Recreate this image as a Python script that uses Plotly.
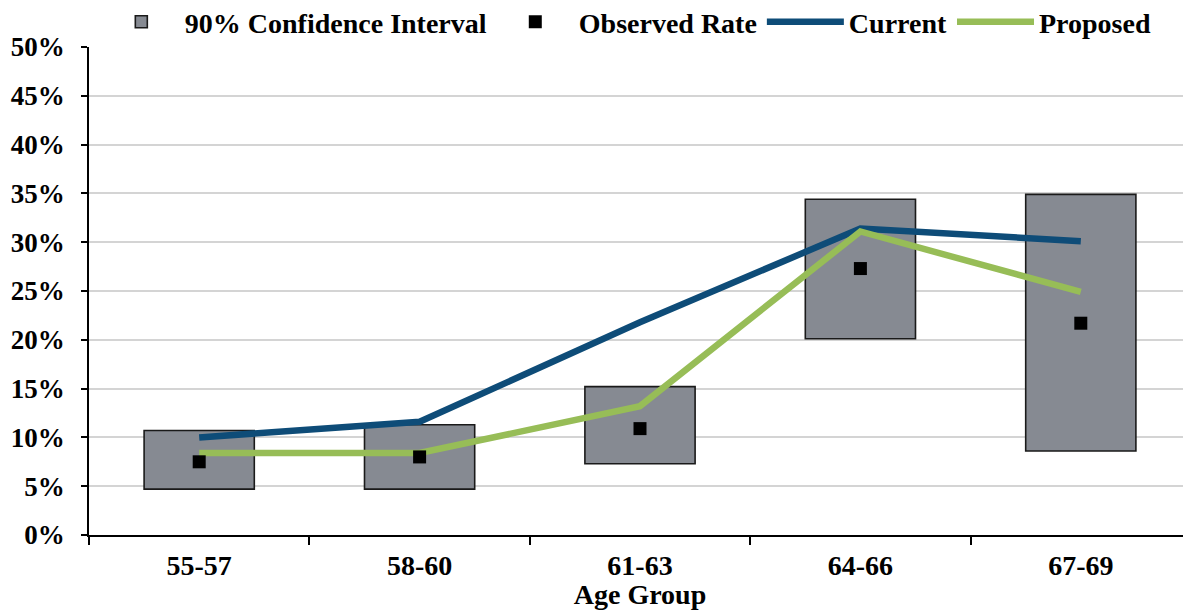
import plotly.graph_objects as go

categories = ["55-57", "58-60", "61-63", "64-66", "67-69"]
ci_low = [4.7, 4.7, 7.3, 20.1, 8.6]
ci_high = [10.7, 11.3, 15.2, 34.4, 34.9]
observed = [7.5, 8.0, 10.9, 27.3, 21.7]
current = [10.0, 11.6, 21.8, 31.4, 30.1]
proposed = [8.4, 8.4, 13.2, 31.1, 24.9]
y_ticks = [0, 5, 10, 15, 20, 25, 30, 35, 40, 45, 50]
y_tick_labels = [f"{v}%" for v in y_ticks]

FONT = "Liberation Serif"
FS = 28

fig = go.Figure()
fig.add_trace(go.Bar(
    x=categories,
    y=[h - l for h, l in zip(ci_high, ci_low)],
    base=ci_low,
    width=0.5,
    name="90% Confidence Interval",
    legendrank=1,
    marker=dict(color="#868a92", line=dict(color="#1a1a1a", width=1.6)),
))
fig.add_trace(go.Scatter(
    x=categories, y=current, mode="lines", name="Current", legendrank=3,
    line=dict(color="#0e4c78", width=6.5),
))
fig.add_trace(go.Scatter(
    x=categories, y=proposed, mode="lines", name="Proposed", legendrank=4,
    line=dict(color="#97bd57", width=6.5),
))
fig.add_trace(go.Scatter(
    x=categories, y=observed, mode="markers", name="Observed Rate", legendrank=2,
    marker=dict(symbol="square", size=13, color="black"),
))

# page body has an 8px margin, so the figure is sized/offset to compensate
fig.update_layout(
    width=1183, height=602,
    margin=dict(l=81, r=0, t=39, b=75, autoexpand=False),
    paper_bgcolor="white", plot_bgcolor="white",
    font=dict(family=FONT, size=FS, color="black", weight="bold"),
    showlegend=True,
    legend=dict(orientation="h", x=0.008, y=1.0, yanchor="bottom", xanchor="left",
                font=dict(family=FONT, size=FS, weight="bold"),
                itemwidth=77, bgcolor="rgba(0,0,0,0)"),
)
fig.update_xaxes(
    type="category", range=[-0.5, 4.5],
    showline=True, linecolor="black", linewidth=1.5,
    ticks="outside", tickson="boundaries", ticklen=8, tickcolor="black", tickwidth=1.5,
    showgrid=False, automargin=False,
    ticklabelstandoff=5,
    title=dict(text="Age Group", standoff=8, font=dict(family=FONT, size=FS, weight="bold")),
    tickfont=dict(family=FONT, size=FS, weight="bold"),
)
fig.update_yaxes(
    range=[0, 50], tickvals=y_ticks, ticktext=y_tick_labels,
    showline=True, linecolor="black", linewidth=1.5,
    ticks="outside", ticklen=6, tickcolor="black", tickwidth=1.5,
    showgrid=True, gridcolor="#d4d4d4", gridwidth=1.5,
    zeroline=False, automargin=False,
    ticklabelstandoff=11,
    tickfont=dict(family=FONT, size=27, weight="bold"),
)

fig.write_html("out.html")
